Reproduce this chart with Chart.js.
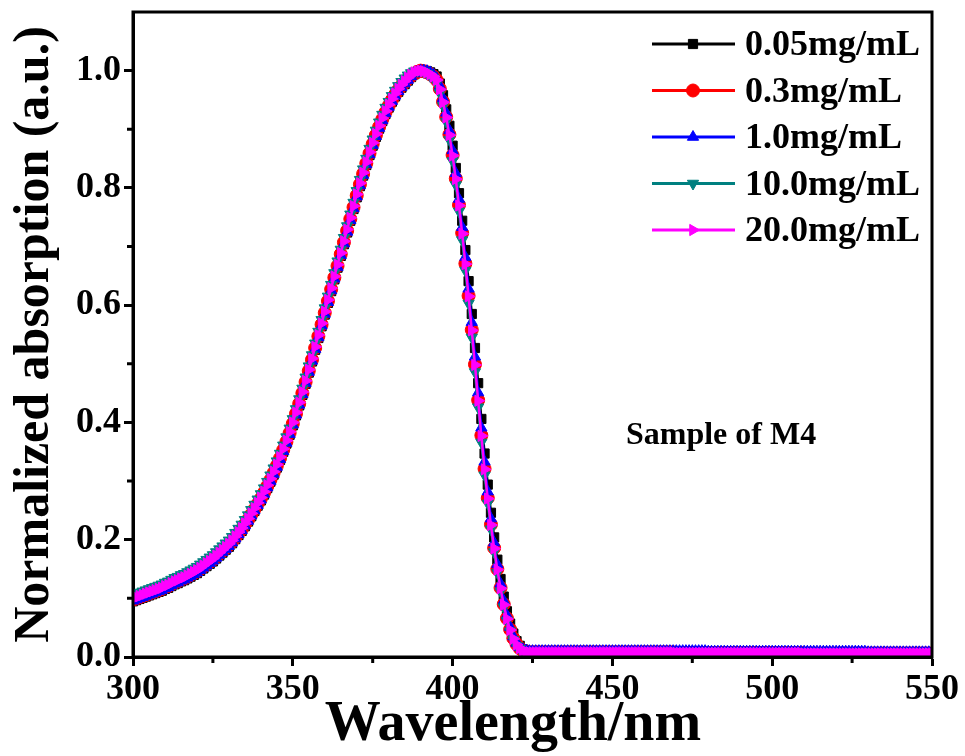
<!DOCTYPE html>
<html lang="en">
<head>
<meta charset="UTF-8" />
<title>Normalized absorption - M4</title>
<style>
  body { margin: 0; background: #fff; }
  #wrap { width: 965px; height: 756px; }
</style>
</head>
<body>
<div id="wrap"><canvas id="chart"></canvas></div>
<script src="https://cdn.jsdelivr.net/npm/chart.js@4.4.1/dist/chart.umd.min.js"></script>
<script>
// wavelength grid, 1 nm steps
const wavelength = [
  300,301,302,303,304,305,306,307,308,309,
  310,311,312,313,314,315,316,317,318,319,
  320,321,322,323,324,325,326,327,328,329,
  330,331,332,333,334,335,336,337,338,339,
  340,341,342,343,344,345,346,347,348,349,
  350,351,352,353,354,355,356,357,358,359,
  360,361,362,363,364,365,366,367,368,369,
  370,371,372,373,374,375,376,377,378,379,
  380,381,382,383,384,385,386,387,388,389,
  390,391,392,393,394,395,396,397,398,399,
  400,401,402,403,404,405,406,407,408,409,
  410,411,412,413,414,415,416,417,418,419,
  420,421,422,423,424,425,426,427,428,429,
  430,431,432,433,434,435,436,437,438,439,
  440,441,442,443,444,445,446,447,448,449,
  450,451,452,453,454,455,456,457,458,459,
  460,461,462,463,464,465,466,467,468,469,
  470,471,472,473,474,475,476,477,478,479,
  480,481,482,483,484,485,486,487,488,489,
  490,491,492,493,494,495,496,497,498,499,
  500,501,502,503,504,505,506,507,508,509,
  510,511,512,513,514,515,516,517,518,519,
  520,521,522,523,524,525,526,527,528,529,
  530,531,532,533,534,535,536,537,538,539,
  540,541,542,543,544,545,546,547,548,549,
  550
];

// 300-429 nm
const abs005 = [
  .095,.097,.099,.101,.103,.105,.107,.109,.111,.113,
  .116,.118,.121,.124,.126,.129,.131,.134,.137,.140,
  .143,.147,.151,.155,.159,.163,.168,.173,.178,.183,
  .188,.194,.201,.208,.215,.223,.231,.240,.249,.258,
  .267,.277,.288,.299,.311,.323,.336,.350,.364,.379,
  .395,.412,.429,.447,.466,.485,.504,.524,.544,.564,
  .584,.604,.624,.644,.664,.684,.704,.724,.744,.764,
  .784,.803,.821,.839,.856,.872,.887,.901,.914,.926,
  .937,.947,.956,.964,.971,.977,.983,.989,.994,.997,
  .999,1.000,.999,.997,.994,.990,.978,.958,.934,.906,
  .872,.834,.791,.744,.694,.641,.585,.527,.467,.406,
  .347,.294,.246,.204,.166,.133,.103,.078,.057,.040,
  .027,.019,.013,.010,.008,.008,.008,.008,.008,.008
];
const abs03 = [
  .098,.100,.102,.104,.106,.108,.110,.112,.114,.116,
  .119,.121,.124,.127,.129,.132,.134,.137,.140,.143,
  .146,.150,.154,.158,.162,.166,.171,.176,.181,.186,
  .191,.197,.204,.211,.218,.226,.234,.243,.252,.261,
  .270,.280,.291,.302,.314,.326,.339,.353,.367,.382,
  .398,.415,.432,.450,.469,.488,.507,.527,.547,.567,
  .587,.607,.627,.647,.667,.687,.707,.727,.747,.767,
  .787,.806,.824,.842,.859,.875,.890,.904,.917,.929,
  .940,.950,.959,.967,.974,.980,.986,.991,.995,.998,
  1.000,.999,.997,.994,.990,.984,.969,.947,.921,.891,
  .856,.816,.771,.723,.671,.616,.558,.499,.438,.378,
  .321,.271,.226,.186,.150,.118,.090,.066,.047,.032,
  .022,.015,.011,.009,.008,.008,.008,.008,.008,.008
];
const abs10 = [
  .096,.098,.100,.102,.104,.106,.108,.110,.112,.114,
  .117,.119,.122,.125,.127,.130,.132,.135,.138,.141,
  .144,.148,.152,.156,.160,.164,.169,.174,.179,.184,
  .189,.195,.202,.209,.216,.224,.232,.241,.250,.259,
  .268,.278,.289,.300,.312,.324,.337,.351,.365,.380,
  .396,.413,.430,.448,.467,.486,.505,.525,.545,.565,
  .585,.605,.625,.645,.665,.685,.705,.725,.745,.765,
  .785,.804,.822,.840,.857,.873,.888,.902,.915,.927,
  .938,.948,.957,.965,.972,.978,.984,.990,.995,.998,
  1.000,1.000,.999,.997,.993,.987,.974,.953,.928,.898,
  .864,.825,.781,.733,.682,.628,.571,.512,.451,.391,
  .333,.282,.236,.195,.158,.125,.096,.071,.051,.035,
  .024,.017,.013,.011,.010,.010,.010,.010,.010,.010
];
const abs100 = [
  .106,.108,.110,.112,.114,.116,.118,.120,.122,.124,
  .127,.129,.132,.135,.137,.140,.142,.145,.148,.151,
  .154,.158,.162,.166,.170,.174,.179,.184,.189,.194,
  .199,.205,.212,.219,.226,.234,.242,.251,.260,.269,
  .278,.288,.299,.310,.322,.334,.347,.361,.375,.390,
  .406,.423,.440,.458,.477,.496,.515,.535,.555,.575,
  .595,.615,.635,.655,.675,.695,.715,.735,.755,.775,
  .795,.814,.832,.850,.867,.883,.898,.912,.925,.937,
  .947,.957,.966,.974,.981,.987,.992,.996,.999,1.000,
  1.000,.998,.995,.991,.987,.979,.962,.940,.913,.882,
  .846,.805,.760,.711,.659,.603,.545,.486,.426,.366,
  .310,.262,.218,.179,.144,.112,.085,.062,.044,.029,
  .019,.014,.010,.009,.008,.008,.008,.008,.008,.008
];
const abs200 = [
  .100,.102,.104,.106,.108,.110,.112,.114,.116,.118,
  .121,.123,.126,.129,.131,.134,.136,.139,.142,.145,
  .148,.152,.156,.160,.164,.168,.173,.178,.183,.188,
  .193,.199,.206,.213,.220,.228,.236,.245,.254,.263,
  .272,.282,.293,.304,.316,.328,.341,.355,.369,.384,
  .400,.417,.434,.452,.471,.490,.509,.529,.549,.569,
  .589,.609,.629,.649,.669,.689,.709,.729,.749,.769,
  .789,.808,.826,.844,.861,.877,.892,.906,.919,.931,
  .942,.952,.961,.969,.976,.982,.988,.993,.997,.999,
  1.000,.999,.997,.994,.990,.984,.968,.946,.920,.890,
  .855,.815,.770,.722,.670,.615,.557,.498,.437,.377,
  .320,.270,.225,.185,.149,.117,.089,.065,.046,.031,
  .021,.015,.011,.009,.008,.008,.008,.008,.008,.008
];
// 430-550 nm flat baseline
const tailAbs = [
  .008,.008,.008,.008,.008,.008,.008,.008,.008,.008,
  .008,.008,.008,.008,.008,.008,.008,.008,.008,.008,
  .008,.008,.008,.008,.008,.008,.008,.008,.008,.008,
  .008,.008,.008,.008,.008,.008,.008,.008,.008,.008,
  .007,.007,.007,.007,.007,.007,.007,.007,.007,.007,
  .007,.007,.007,.007,.007,.007,.007,.007,.007,.007,
  .007,.007,.007,.007,.007,.007,.007,.007,.007,.007,
  .007,.007,.007,.007,.007,.007,.007,.007,.007,.007,
  .006,.006,.006,.006,.006,.006,.006,.006,.006,.006,
  .006,.006,.006,.006,.006,.006,.006,.006,.006,.006,
  .006,.006,.006,.006,.006,.006,.006,.006,.006,.006,
  .006,.006,.006,.006,.006,.006,.006,.006,.006,.006,
  .006
];
const tailAbs10 = [
  .010,.010,.010,.010,.010,.010,.010,.010,.010,.010,
  .010,.010,.010,.010,.010,.010,.010,.010,.010,.010,
  .010,.010,.010,.010,.010,.010,.010,.010,.010,.010,
  .010,.010,.010,.010,.010,.010,.010,.010,.010,.010,
  .010,.010,.010,.010,.010,.010,.010,.010,.010,.010,
  .009,.009,.009,.009,.009,.009,.009,.009,.009,.009,
  .009,.009,.009,.009,.009,.009,.009,.009,.009,.009,
  .009,.009,.009,.009,.009,.009,.009,.009,.009,.009,
  .009,.009,.009,.009,.009,.009,.009,.009,.009,.009,
  .009,.009,.009,.009,.009,.009,.009,.009,.009,.009,
  .008,.008,.008,.008,.008,.008,.008,.008,.008,.008,
  .008,.008,.008,.008,.008,.008,.008,.008,.008,.008,
  .008
];

const seriesLabels = ["0.05mg/mL", "0.3mg/mL", "1.0mg/mL", "10.0mg/mL", "20.0mg/mL"];
const xTicks = [300, 350, 400, 450, 500, 550];
const xMinor = [325, 375, 425, 475, 525];
const yMinor = [0.1, 0.3, 0.5, 0.7, 0.9];

const FONT = '"Liberation Serif", "Times New Roman", serif';

const toPoints = ys => ys.map((y, i) => ({ x: wavelength[i], y }));

const mk = (label, ys, color, style, rot, order) => ({
  label,
  data: toPoints(ys),
  borderColor: color,
  backgroundColor: color,
  pointBackgroundColor: color,
  pointBorderColor: color,
  borderWidth: 2.5,
  pointStyle: style,
  pointRotation: rot,
  pointRadius: 6.5,
  pointBorderWidth: 1,
  order,
});

const datasets = [
  mk(seriesLabels[0], abs005.concat(tailAbs), "#000000", "rect", 0, 5),
  mk(seriesLabels[1], abs03.concat(tailAbs), "#ff0000", "circle", 0, 4),
  mk(seriesLabels[2], abs10.concat(tailAbs10), "#0000ff", "triangle", 0, 3),
  mk(seriesLabels[3], abs100.concat(tailAbs), "#008080", "triangle", 180, 2),
  mk(seriesLabels[4], abs200.concat(tailAbs), "#ff00ff", "triangle", 90, 1),
];

const extras = {
  id: "extras",
  afterDraw(chart) {
    const ctx = chart.ctx;
    const a = chart.chartArea;
    const xs = chart.scales.x, ys = chart.scales.y;
    ctx.save();
    // frame
    ctx.strokeStyle = "#000000";
    ctx.lineWidth = 3;
    ctx.strokeRect(a.left, a.top, a.right - a.left, a.bottom - a.top);
    // minor ticks
    ctx.beginPath();
    xMinor.forEach(v => {
      const px = xs.getPixelForValue(v);
      ctx.moveTo(px, a.bottom);
      ctx.lineTo(px, a.bottom + 6);
    });
    yMinor.forEach(v => {
      const py = ys.getPixelForValue(v);
      ctx.moveTo(a.left, py);
      ctx.lineTo(a.left - 6, py);
    });
    ctx.stroke();

    // legend
    const lx = a.right - 280, ly = a.top + 32, row = 46.5;
    ctx.font = "bold 36px " + FONT;
    ctx.textBaseline = "middle";
    ctx.textAlign = "left";
    chart.data.datasets.forEach((ds, i) => {
      const y = ly + i * row;
      ctx.strokeStyle = ds.borderColor;
      ctx.fillStyle = ds.borderColor;
      ctx.lineWidth = 3;
      ctx.beginPath();
      ctx.moveTo(lx, y);
      ctx.lineTo(lx + 83, y);
      ctx.stroke();
      ctx.lineWidth = 1;
      Chart.helpers.drawPoint(ctx, { pointStyle: ds.pointStyle, rotation: ds.pointRotation, radius: 6.5, borderWidth: 1 }, lx + 41, y);
      ctx.fillStyle = "#000";
      ctx.fillText(ds.label, lx + 93, y + 2);
    });

    // annotation
    ctx.font = "bold 32px " + FONT;
    ctx.textAlign = "center";
    ctx.fillStyle = "#000";
    ctx.fillText("Sample of M4", xs.getPixelForValue(484), ys.getPixelForValue(0.378));
    ctx.restore();
  },
};

new Chart(document.getElementById("chart"), {
  type: "line",
  data: { datasets },
  plugins: [extras],
  options: {
    responsive: true,
    maintainAspectRatio: false,
    animation: false,
    layout: { padding: { top: 12, right: 33, left: 0, bottom: 0 } },
    plugins: { legend: { display: false }, tooltip: { enabled: false } },
    scales: {
      x: {
        type: "linear",
        min: 300,
        max: 550,
        z: 1,
        afterBuildTicks: s => { s.ticks = xTicks.map(v => ({ value: v })); },
        afterFit: s => { s.height = 99; s.paddingLeft = 0; s.paddingRight = 0; },
        border: { color: "#000", width: 3 },
        grid: { drawOnChartArea: false, tickLength: 9, tickWidth: 3, tickColor: "#000" },
        ticks: { color: "#000", padding: 2, maxRotation: 0, font: { family: FONT, size: 36, weight: "bold" } },
        title: { display: true, text: "Wavelength/nm\u2002\u2009", color: "#000", padding: 0, font: { family: FONT, size: 56, weight: "bold", lineHeight: 1.1 } },
      },
      y: {
        min: 0,
        max: 1.1,
        z: 1,
        ticks: { stepSize: 0.2, includeBounds: false, color: "#000", padding: 3, font: { family: FONT, size: 36, weight: "bold" }, callback: v => v.toFixed(1) },
        afterFit: s => { s.width = 133; s.paddingTop = 0; s.paddingBottom = 0; },
        border: { color: "#000", width: 3 },
        grid: { drawOnChartArea: false, tickLength: 9, tickWidth: 3, tickColor: "#000" },
        title: { display: true, text: "Normalized absorption (a.u.)", color: "#000", padding: { top: 6 }, font: { family: FONT, size: 50, weight: "bold", lineHeight: 1.15 } },
      },
    },
  },
});
</script>
</body>
</html>
